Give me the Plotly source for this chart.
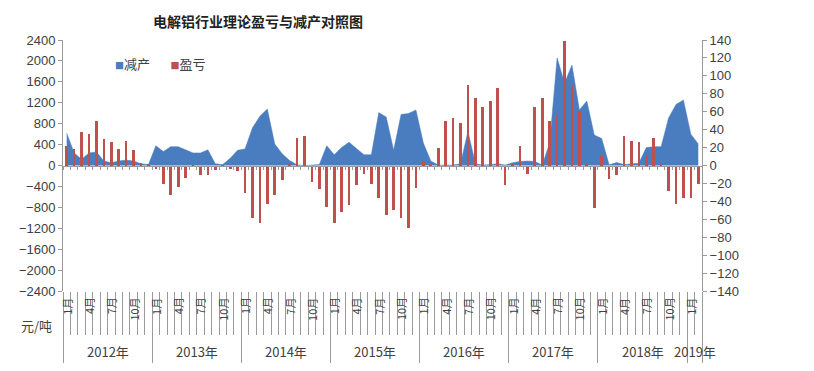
import plotly.graph_objects as go

# ---------------- data ----------------
years = [2012, 2013, 2014, 2015, 2016, 2017, 2018, 2019]
months_in_year = [12, 12, 12, 12, 12, 12, 12, 2]
year_labels = [f"{y}年" for y in years]
periods = [f"{y}-{m:02d}" for y, n in zip(years, months_in_year) for m in range(1, n + 1)]
month_num = [int(p.split("-")[1]) for p in periods]
shown_months = [1, 4, 7, 10]

# 盈亏 (元/吨, left axis)
profit = [
    380, 320, 650, 605, 855, 505, 440, 310, 460, 290, 45, 20,            # 2012
    -60, -355, -560, -415, -235, -15, -190, -175, -85, -20, -70, -105,    # 2013
    -520, -1010, -1100, -740, -555, -275, 15, 530, 560, -310, -455, -790, # 2014
    -1095, -883, -755, -370, -168, -355, -627, -945, -850, -1010, -1203, -425,  # 2015
    90, 10, 344, 860, 905, 822, 1541, 1300, 1115, 1242, 1478, -375,       # 2016
    10, 376, -155, 1120, 1287, 860, 960, 2382, 1540, 1040, 30, -815,      # 2017
    190, -261, -185, 567, 471, 459, 200, 535, 20, -485, -740, -630,       # 2018
    -630, -360,                                                           # 2019
]

# 减产 (right axis)
reduction = [
    36, 14, 7, 14, 15, 5, 3, 5, 6, 5, 2, 1,               # 2012
    22, 15.5, 21, 21, 17.5, 14, 14, 17.5, 2, 1, 8, 17,    # 2013
    18.5, 42, 55, 63, 24, 13, 5.5, 0.7, 0, 0.5, 1, 22,    # 2014
    12, 20, 26, 19, 12, 12, 59, 54, 17, 57, 58, 62,       # 2015
    25, 5, 0.5, 0.5, 0.5, 2, 38, 2, 0.5, 1, 2, 0.5,       # 2016
    3, 4.5, 5, 4.5, 0.5, 25, 120, 92, 112, 62, 72, 34,    # 2017
    30, 0.7, 3.3, 1, 2, 2.5, 20, 21, 21, 53, 68, 73,      # 2018
    35, 24,                                               # 2019
]

x = list(range(len(periods)))
boundaries = [i - 0.5 for i in range(len(periods) + 1)]
year_starts = []
s = 0
for n in months_in_year:
    year_starts.append(s)
    s += n
year_bounds = [st - 0.5 for st in year_starts] + [len(periods) - 0.5]
year_centers = [st + (n - 1) / 2 for st, n in zip(year_starts, months_in_year)]

BLUE = "#4A7DBF"
RED = "#C0504D"
AX = "#9a9a9a"
TXT = "#404040"
FONT = "Liberation Sans"
CJK = "Noto Sans CJK SC"

fig = go.Figure()
fig.add_trace(go.Scatter(
    x=x, y=reduction, name="减产", mode="lines", fill="tozeroy",
    fillcolor=BLUE, line=dict(color=BLUE, width=0.5),
    xaxis="x", yaxis="y", showlegend=False,
))
fig.add_trace(go.Bar(
    x=x, y=profit, name="盈亏", marker=dict(color=RED, line=dict(width=0)),
    width=0.36, xaxis="x2", yaxis="y2", showlegend=False,
))

annotations = []
# month labels
for i, m in enumerate(month_num):
    if m in shown_months:
        annotations.append(dict(
            x=i, y=-0.018, xref="x", yref="paper", text=f"{m}月",
            textangle=-90, showarrow=False, xanchor="center", yanchor="top",
            font=dict(family=CJK, size=11, color=TXT),
        ))
# year labels
for xc, lab in zip(year_centers, year_labels):
    annotations.append(dict(
        x=xc, y=-0.243, xref="x", yref="paper", text=lab, showarrow=False,
        xanchor="center", yanchor="middle",
        font=dict(family=CJK, size=13, color=TXT),
    ))
# unit label
annotations.append(dict(
    x=-0.042, y=-0.139, xref="paper", yref="paper", text="元/吨",
    showarrow=False, xanchor="center", yanchor="middle",
    font=dict(family=CJK, size=13, color=TXT),
))
# title
annotations.append(dict(
    x=0.305, y=1.12, xref="paper", yref="paper",
    text="<b>电解铝行业理论盈亏与减产对照图</b>", showarrow=False,
    xanchor="center", yanchor="top", borderpad=0,
    font=dict(family=CJK, size=14, color="#222222"),
))
# legend
annotations.append(dict(
    x=0.078, y=0.905, xref="paper", yref="paper",
    text=(f"<span style='color:{BLUE};font-size:9px'>■</span>减产"
          f"&nbsp;&nbsp;&nbsp;&nbsp;&nbsp;&nbsp;&nbsp;"
          f"<span style='color:{RED};font-size:9px'>■</span>盈亏"),
    showarrow=False, xanchor="left", yanchor="middle",
    font=dict(family=CJK, size=13, color=TXT),
))

# page body has an 8px default margin, so the figure is 16px smaller
fig.update_layout(
    width=798, height=355,
    margin=dict(l=55, r=104, t=32, b=72, autoexpand=False),
    paper_bgcolor="white", plot_bgcolor="white",
    showlegend=False,
    bargap=0,
    font=dict(family=FONT, size=13, color=TXT),
    xaxis=dict(
        range=[-0.5, len(periods) - 0.5], showgrid=False, zeroline=False,
        showline=False, tickmode="array", tickvals=year_bounds, automargin=False,
        showticklabels=False, ticks="outside", ticklen=75, tickcolor=AX, tickwidth=1,
        minor=dict(tickmode="array", tickvals=boundaries, ticks="outside",
                   ticklen=43, tickcolor=AX, tickwidth=1),
    ),
    xaxis2=dict(
        overlaying="x", matches="x", anchor="free", position=0.5, automargin=False,
        showgrid=False, zeroline=False, showline=True, linecolor=AX, linewidth=1,
        tickmode="array", tickvals=boundaries, showticklabels=False,
        ticks="outside", ticklen=3, tickcolor=AX,
    ),
    yaxis=dict(
        side="right", range=[-140, 140], tickmode="array", automargin=False,
        tickvals=list(range(-140, 141, 20)), showgrid=False, zeroline=False,
        showline=True, linecolor=AX, ticks="outside", ticklen=4, tickcolor=AX,
        tickfont=dict(family=FONT, size=13, color=TXT),
    ),
    yaxis2=dict(
        overlaying="y", side="left", anchor="x", range=[-2400, 2400], automargin=False,
        tickmode="array", tickvals=list(range(-2400, 2401, 400)),
        showgrid=False, zeroline=False, showline=True, linecolor=AX,
        ticks="outside", ticklen=4, tickcolor=AX,
        tickfont=dict(family=FONT, size=13, color=TXT),
    ),
    annotations=annotations,
)

fig.write_html("out.html")
